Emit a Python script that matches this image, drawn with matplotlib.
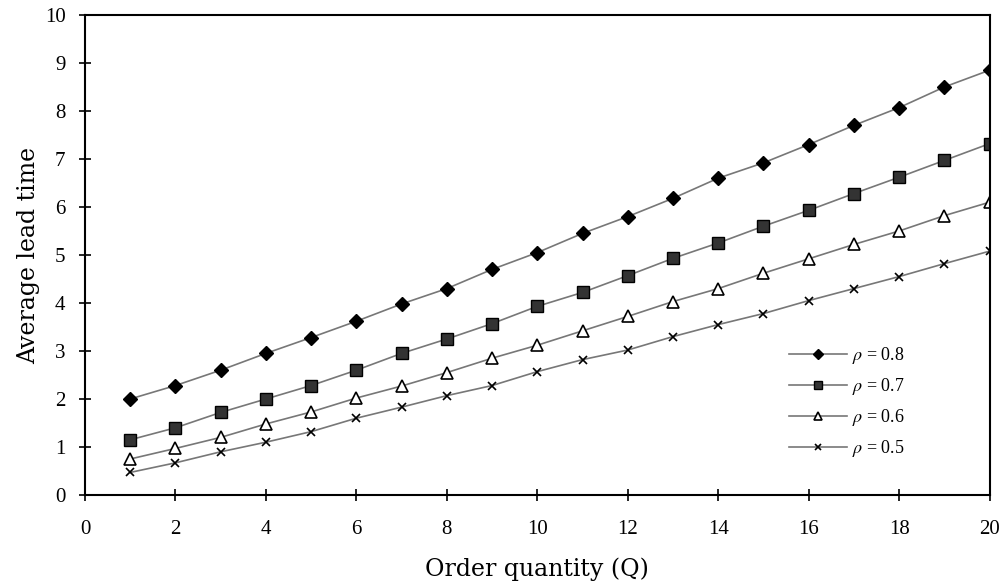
import matplotlib.pyplot as plt
import numpy as np

# data
q = np.arange(1, 21)
rho_08 = [2.0, 2.28, 2.6, 2.95, 3.28, 3.62, 3.98, 4.3, 4.7, 5.05,
          5.45, 5.8, 6.18, 6.6, 6.92, 7.3, 7.7, 8.07, 8.5, 8.85]
rho_07 = [1.15, 1.4, 1.72, 2.0, 2.28, 2.6, 2.95, 3.25, 3.57, 3.93,
          4.22, 4.57, 4.93, 5.25, 5.6, 5.93, 6.28, 6.62, 6.97, 7.32]
rho_06 = [0.75, 0.97, 1.2, 1.48, 1.73, 2.02, 2.27, 2.55, 2.85, 3.12,
          3.42, 3.72, 4.03, 4.3, 4.62, 4.92, 5.22, 5.5, 5.82, 6.1]
rho_05 = [0.47, 0.67, 0.9, 1.1, 1.32, 1.6, 1.83, 2.07, 2.28, 2.57,
          2.82, 3.02, 3.3, 3.55, 3.78, 4.05, 4.3, 4.55, 4.82, 5.08]
labels = [r"$\rho$ = 0.8", r"$\rho$ = 0.7", r"$\rho$ = 0.6", r"$\rho$ = 0.5"]

plt.rcParams["font.family"] = "Liberation Serif"
plt.rcParams["mathtext.fontset"] = "stix"

fig = plt.figure(figsize=(10.03, 5.84), dpi=100)
ax = fig.add_axes([0.0847, 0.1524, 0.902, 0.822])

line_col = "#777777"
ax.plot(q, rho_08, color=line_col, lw=1.2, marker="D", ms=7,
        mfc="black", mec="black", label=labels[0])
ax.plot(q, rho_07, color=line_col, lw=1.2, marker="s", ms=8,
        mfc="#333333", mec="black", label=labels[1])
ax.plot(q, rho_06, color=line_col, lw=1.2, marker="^", ms=8,
        mfc="white", mec="black", mew=1.2, label=labels[2])
ax.plot(q, rho_05, color=line_col, lw=1.2, marker="x", ms=6,
        mec="black", mew=1.2, label=labels[3])

ax.set_xlim(0, 20)
ax.set_ylim(0, 10)
ax.set_xticks(np.arange(0, 21, 2))
ax.set_yticks(np.arange(0, 11, 1))
ax.tick_params(direction="inout", length=8, width=1.2, labelsize=15)
ax.tick_params(axis="x", pad=14)
ax.tick_params(axis="y", pad=10)

for spine in ax.spines.values():
    spine.set_linewidth(1.5)

ax.set_xlabel("Order quantity (Q)", fontsize=17, family="DejaVu Serif",
              labelpad=13)
ax.set_ylabel("Average lead time", fontsize=17, family="DejaVu Serif",
              labelpad=3)

ax.legend(loc="upper left", bbox_to_anchor=(0.77, 0.327), frameon=False,
          fontsize=13, handlelength=3.2, labelspacing=0.55,
          handletextpad=0.3, borderaxespad=0, markerscale=0.8)

fig.savefig("out.png", dpi=100)
